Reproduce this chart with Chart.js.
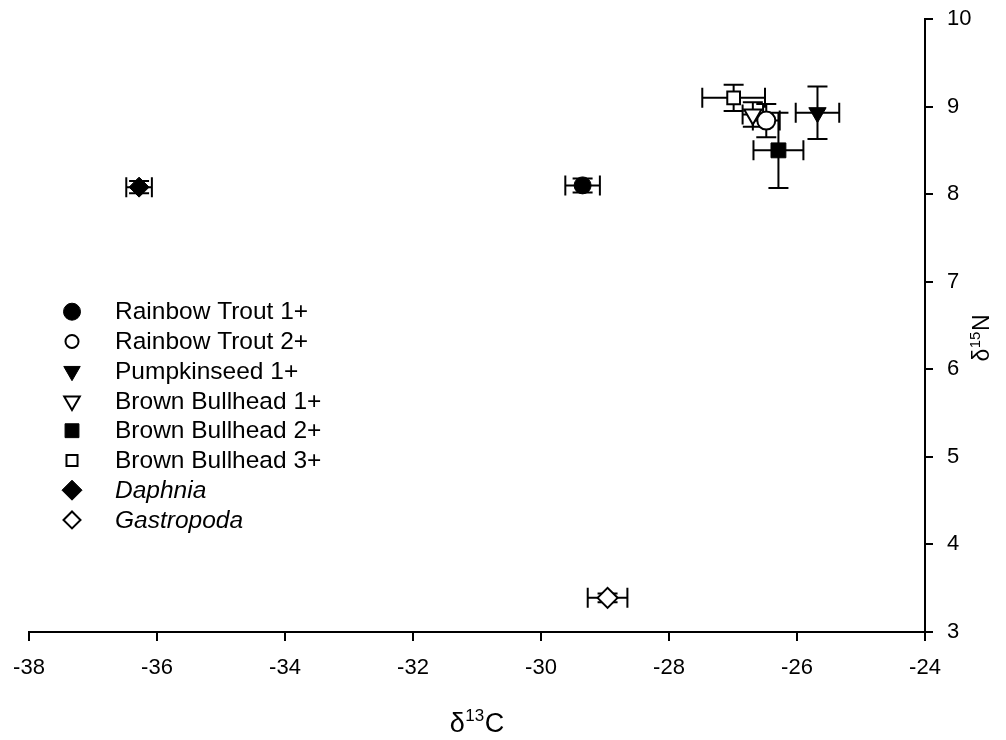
<!DOCTYPE html>
<html>
<head>
<meta charset="utf-8">
<script src="https://cdn.jsdelivr.net/npm/chart.js@4/dist/chart.umd.min.js"></script>
<style>
  html, body { margin: 0; padding: 0; background: #fff; }
  #wrap { width: 1006px; height: 740px; position: relative; }
</style>
</head>
<body>
<div id="wrap"><canvas id="c" width="1006" height="740"></canvas></div>
<script>
// ---- data ----
const species = ["Rainbow Trout 1+", "Rainbow Trout 2+", "Pumpkinseed 1+", "Brown Bullhead 1+",
                 "Brown Bullhead 2+", "Brown Bullhead 3+", "Daphnia", "Gastropoda"];
const d13C    = [-29.35, -26.48, -25.68, -26.69, -26.29, -26.99, -36.28, -28.96];
const d15N    = [8.10, 8.84, 8.93, 8.91, 8.50, 9.10, 8.08, 3.39];
const d13CErr = [0.27, 0.21, 0.34, 0.16, 0.39, 0.49, 0.20, 0.31];
const d15NErr = [0.08, 0.19, 0.30, 0.14, 0.43, 0.15, 0.07, 0.05];
const italicNames = [false, false, false, false, false, false, true, true];
const xTicks = [-38, -36, -34, -32, -30, -28, -26, -24];
const yTicks = [3, 4, 5, 6, 7, 8, 9, 10];
const xTitle = ["δ", "13", "C"];
const yTitle = ["δ", "15", "N"];

// ---- styles ----
const styles = [
  { pointStyle: 'circle',   rotation: 0,   radius: 8.5,  legendRadius: 8.5, fill: '#000' },
  { pointStyle: 'circle',   rotation: 0,   radius: 9,    legendRadius: 6.5, fill: '#fff' },
  { pointStyle: 'triangle', rotation: 180, radius: 10,   legendRadius: 9.5, fill: '#000' },
  { pointStyle: 'triangle', rotation: 180, radius: 10,   legendRadius: 9,   fill: '#fff' },
  { pointStyle: 'rect',     rotation: 0,   radius: 10.5, legendRadius: 9.8, fill: '#000' },
  { pointStyle: 'rect',     rotation: 0,   radius: 9,    legendRadius: 7.8, fill: '#fff' },
  { pointStyle: 'rectRot',  rotation: 0,   radius: 10,   legendRadius: 10,  fill: '#000' },
  { pointStyle: 'rectRot',  rotation: 0,   radius: 10,   legendRadius: 8.5, fill: '#fff' }
];
const FONT = '"Liberation Sans", Arial, Helvetica, sans-serif';

const datasets = species.map((name, i) => ({
  label: name,
  data: [{ x: d13C[i], y: d15N[i] }],
  pointStyle: styles[i].pointStyle,
  rotation: styles[i].rotation,
  pointRadius: styles[i].radius,
  pointBackgroundColor: styles[i].fill,
  pointBorderColor: '#000',
  pointBorderWidth: styles[i].fill === '#fff' ? 2 : 1,
  showLine: false
}));

const errorBars = {
  id: 'errorBars',
  beforeDatasetsDraw(chart) {
    const ctx = chart.ctx, xs = chart.scales.x, ys = chart.scales.y;
    const cap = 10;
    ctx.save();
    ctx.strokeStyle = '#000';
    ctx.lineWidth = 2;
    for (let i = 0; i < species.length; i++) {
      const px = xs.getPixelForValue(d13C[i]), py = ys.getPixelForValue(d15N[i]);
      const xl = xs.getPixelForValue(d13C[i] - d13CErr[i]);
      const xr = xs.getPixelForValue(d13C[i] + d13CErr[i]);
      const yt = ys.getPixelForValue(d15N[i] + d15NErr[i]);
      const yb = ys.getPixelForValue(d15N[i] - d15NErr[i]);
      ctx.beginPath();
      ctx.moveTo(xl, py); ctx.lineTo(xr, py);
      ctx.moveTo(xl, py - cap); ctx.lineTo(xl, py + cap);
      ctx.moveTo(xr, py - cap); ctx.lineTo(xr, py + cap);
      ctx.moveTo(px, yt); ctx.lineTo(px, yb);
      ctx.moveTo(px - cap, yt); ctx.lineTo(px + cap, yt);
      ctx.moveTo(px - cap, yb); ctx.lineTo(px + cap, yb);
      ctx.stroke();
    }
    ctx.restore();
  }
};

function drawMarker(ctx, st, x, y) {
  const opts = { pointStyle: st.pointStyle, rotation: st.rotation, radius: st.legendRadius,
                 borderWidth: st.fill === '#fff' ? 2 : 1 };
  ctx.save();
  ctx.fillStyle = st.fill;
  ctx.strokeStyle = '#000';
  ctx.lineWidth = opts.borderWidth;
  if (Chart.helpers && Chart.helpers.drawPoint) {
    Chart.helpers.drawPoint(ctx, opts, x, y);
  } else {
    ctx.beginPath();
    ctx.arc(x, y, st.legendRadius, 0, Math.PI * 2);
    ctx.fill(); ctx.stroke();
  }
  ctx.restore();
}

const customLegend = {
  id: 'customLegend',
  afterDraw(chart) {
    const ctx = chart.ctx;
    ctx.save();
    ctx.textBaseline = 'middle';
    ctx.textAlign = 'left';
    ctx.fillStyle = '#000';
    for (let i = 0; i < species.length; i++) {
      const y = 311.7 + i * 29.75;
      drawMarker(ctx, styles[i], 72, y);
      ctx.font = (italicNames[i] ? 'italic ' : '') + '24.5px ' + FONT;
      ctx.fillText(species[i], 115, y + 1);
    }
    ctx.restore();
  }
};

function drawSupTitle(ctx, parts, cx, baseline, bigSize, smallSize, raise) {
  const big = bigSize + 'px ' + FONT, small = smallSize + 'px ' + FONT;
  ctx.font = big; const w0 = ctx.measureText(parts[0]).width;
  ctx.font = small; const w1 = ctx.measureText(parts[1]).width;
  ctx.font = big; const w2 = ctx.measureText(parts[2]).width;
  let x = cx - (w0 + w1 + w2 + 1) / 2;
  ctx.textBaseline = 'alphabetic';
  ctx.textAlign = 'left';
  ctx.font = big; ctx.fillText(parts[0], x, baseline); x += w0;
  ctx.font = small; ctx.fillText(parts[1], x + 0.5, baseline - raise); x += w1 + 1;
  ctx.font = big; ctx.fillText(parts[2], x, baseline);
}

const axisTitles = {
  id: 'axisTitles',
  afterDraw(chart) {
    const ctx = chart.ctx, a = chart.chartArea;
    ctx.save();
    ctx.fillStyle = '#000';
    drawSupTitle(ctx, xTitle, (a.left + a.right) / 2, 731.5, 27, 17, 11);
    ctx.translate(989, 338);
    ctx.rotate(-Math.PI / 2);
    drawSupTitle(ctx, yTitle, 0, 0, 23, 15, 9);
    ctx.restore();
  }
};

new Chart(document.getElementById('c'), {
  type: 'scatter',
  data: { datasets },
  options: {
    responsive: false,
    animation: false,
    events: [],
    layout: { padding: { left: 29, top: 19, right: 0, bottom: 0 } },
    plugins: { legend: { display: false }, tooltip: { enabled: false }, title: { display: false } },
    scales: {
      x: {
        type: 'linear', position: 'bottom', min: -38, max: -24,
        afterBuildTicks(s) { s.ticks = xTicks.map(v => ({ value: v })); },
        afterFit(s) { s.height = 108; s.paddingLeft = 0; s.paddingRight = 0; },
        grid: { display: true, drawOnChartArea: false, drawTicks: true, tickLength: 9, color: '#000', lineWidth: 2 },
        border: { display: true, color: '#000', width: 2 },
        ticks: { color: '#000', font: { family: FONT, size: 22 }, padding: 14, maxRotation: 0,
                 callback: v => String(v) }
      },
      y: {
        type: 'linear', position: 'right', min: 3, max: 10,
        afterBuildTicks(s) { s.ticks = yTicks.map(v => ({ value: v })); },
        afterFit(s) { s.width = 81; s.paddingTop = 0; s.paddingBottom = 0; },
        grid: { display: true, drawOnChartArea: false, drawTicks: true, tickLength: 8, color: '#000', lineWidth: 2 },
        border: { display: true, color: '#000', width: 2 },
        ticks: { color: '#000', font: { family: FONT, size: 22 }, padding: 14,
                 callback: v => String(v) }
      }
    }
  },
  plugins: [errorBars, customLegend, axisTitles]
});
</script>
</body>
</html>
